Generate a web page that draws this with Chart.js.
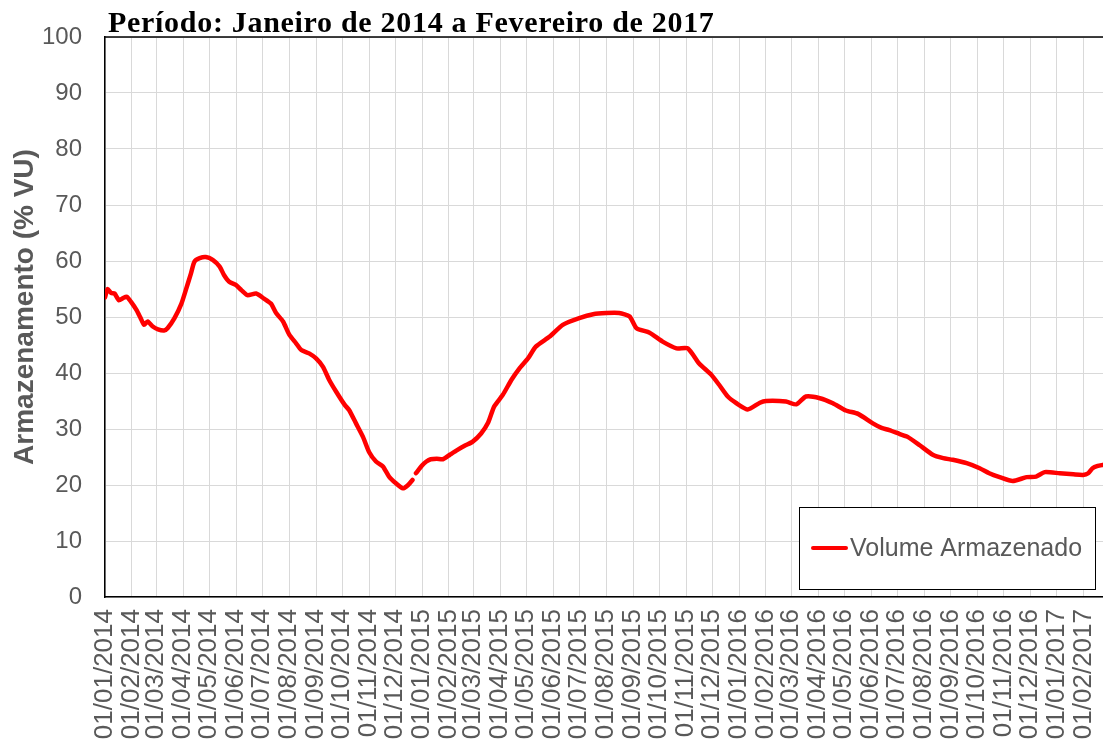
<!DOCTYPE html>
<html><head><meta charset="utf-8">
<script src="https://cdn.jsdelivr.net/npm/chart.js@4/dist/chart.umd.min.js"></script>
<style>html,body{margin:0;padding:0;background:#fff;}#wrap{width:1103px;height:743px;position:relative}</style>
</head><body><div id="wrap"><canvas id="c" width="1103" height="743"></canvas></div>
<script>
const titleText = 'Período: Janeiro de 2014 a Fevereiro de 2017';
const yAxisTitle = 'Armazenamento (% VU)';
const seriesLabel = 'Volume Armazenado';
const tickLabels = ['01/01/2014','01/02/2014','01/03/2014','01/04/2014','01/05/2014','01/06/2014','01/07/2014','01/08/2014','01/09/2014','01/10/2014','01/11/2014','01/12/2014',
'01/01/2015','01/02/2015','01/03/2015','01/04/2015','01/05/2015','01/06/2015','01/07/2015','01/08/2015','01/09/2015','01/10/2015','01/11/2015','01/12/2015',
'01/01/2016','01/02/2016','01/03/2016','01/04/2016','01/05/2016','01/06/2016','01/07/2016','01/08/2016','01/09/2016','01/10/2016','01/11/2016','01/12/2016',
'01/01/2017','01/02/2017'];
const xStart = '2014-01-01';
const xEnd = '2017-02-23';
const dates = ['2014-01-01','2014-01-04','2014-01-08','2014-01-12','2014-01-17','2014-01-22','2014-01-26','2014-01-31','2014-02-06','2014-02-11','2014-02-15','2014-02-19','2014-02-25',
'2014-03-03','2014-03-10','2014-03-14','2014-03-22','2014-03-30','2014-04-04','2014-04-10','2014-04-14','2014-04-20','2014-04-27','2014-05-05','2014-05-13','2014-05-18','2014-05-24',
'2014-06-01','2014-06-07','2014-06-14','2014-06-24','2014-07-03','2014-07-11','2014-07-17','2014-07-25','2014-08-01','2014-08-09','2014-08-15','2014-08-24',
'2014-09-01','2014-09-09','2014-09-16','2014-09-24','2014-10-04','2014-10-09','2014-10-17','2014-10-25','2014-11-01','2014-11-09','2014-11-17','2014-11-24',
'2014-12-02','2014-12-10','2014-12-16','2014-12-21','2014-12-23','2014-12-25',
'2015-01-01','2015-01-06','2015-01-11','2015-01-18','2015-01-25','2015-02-02','2015-02-09','2015-02-19','2015-02-28','2015-03-10','2015-03-18','2015-03-25',
'2015-04-04','2015-04-14','2015-04-23','2015-05-03','2015-05-12','2015-05-28','2015-06-12','2015-07-01','2015-07-17','2015-08-01','2015-08-16','2015-08-28',
'2015-09-05','2015-09-20','2015-10-05','2015-10-21','2015-11-03','2015-11-16','2015-11-30','2015-12-09','2015-12-19','2015-12-29',
'2016-01-11','2016-01-25','2016-02-01','2016-02-24','2016-03-07','2016-03-18','2016-04-03','2016-04-18','2016-05-03','2016-05-17','2016-06-03','2016-06-13','2016-06-22',
'2016-07-04','2016-07-13','2016-07-27','2016-08-11','2016-08-23','2016-09-03','2016-09-19','2016-10-04','2016-10-15','2016-10-27','2016-11-11','2016-11-27',
'2016-12-08','2016-12-18','2017-01-04','2017-01-20','2017-01-31','2017-02-06','2017-02-11','2017-02-17','2017-02-23'];
const values = [53.5,55.0,54.3,54.2,53.0,53.4,53.6,52.7,51.3,49.8,48.6,49.2,48.3,
47.8,47.6,48.0,49.8,52.4,54.8,57.8,59.9,60.5,60.7,60.2,59.0,57.5,56.3,
55.7,54.8,53.9,54.2,53.3,52.4,50.7,49.2,46.9,45.3,44.1,43.5,
42.6,41.1,38.8,36.7,34.3,33.4,31.0,28.6,25.9,24.2,23.3,21.5,
20.3,19.4,20.0,20.9,null,22.1,
23.5,24.2,24.6,24.7,24.6,25.4,26.1,27.0,27.7,29.2,31.1,34.0,
36.1,38.8,40.8,42.6,44.7,46.5,48.6,49.8,50.5,50.7,50.7,50.1,
48.0,47.2,45.6,44.4,44.4,41.7,39.7,37.9,35.8,34.6,
33.5,34.7,35.0,34.9,34.4,35.8,35.5,34.6,33.3,32.7,31.0,30.2,29.8,
29.1,28.6,27.1,25.4,24.8,24.5,23.9,23.0,22.1,21.4,20.7,21.4,
21.5,22.3,22.1,21.9,21.8,22.1,23.0,23.4,23.6];
const yTicks = [0,10,20,30,40,50,60,70,80,90,100];

const DAY = 86400000;
const t0 = Date.UTC(2014,0,1);
function isoDay(s){const p=s.split('-').map(Number);return Math.round((Date.UTC(p[0],p[1]-1,p[2])-t0)/DAY);}
function brDay(s){const p=s.split('/').map(Number);return Math.round((Date.UTC(p[2],p[1]-1,p[0])-t0)/DAY);}
const tickDays = tickLabels.map(brDay);
const points = dates.map((d,i)=>({x:isoDay(d), y:values[i]}));

const GREY = '#595959';
const decor = {
  id:'decor',
  afterDraw(chart){
    const ctx = chart.ctx, a = chart.chartArea;
    ctx.save();
    ctx.strokeStyle='#000'; ctx.lineWidth=1.5;
    ctx.beginPath(); ctx.moveTo(a.left, a.top); ctx.lineTo(a.right, a.top); ctx.stroke();
    ctx.fillStyle='#000';
    ctx.font='bold 30px "Liberation Serif", "Times New Roman", serif';
    try{ctx.letterSpacing='0.7px';}catch(e){}
    ctx.textAlign='left'; ctx.textBaseline='alphabetic';
    ctx.fillText(titleText, 108, 32);
    try{ctx.letterSpacing='0px';}catch(e){}
    ctx.save();
    ctx.translate(25, 307); ctx.rotate(-Math.PI/2);
    ctx.fillStyle=GREY; ctx.font='bold 28px "Liberation Sans", Arial, sans-serif';
    ctx.textAlign='center'; ctx.textBaseline='middle';
    ctx.fillText(yAxisTitle, 0, 0);
    ctx.restore();
    const ds = chart.data.datasets[0];
    ctx.fillStyle='#fff'; ctx.fillRect(799.5,507.5,296,82);
    ctx.strokeStyle='#000'; ctx.lineWidth=1; ctx.strokeRect(799.5,507.5,296,82);
    ctx.strokeStyle=ds.borderColor; ctx.lineWidth=4; ctx.lineCap='round';
    ctx.beginPath(); ctx.moveTo(813,548); ctx.lineTo(846,548); ctx.stroke();
    ctx.fillStyle=GREY; ctx.font='25px "Liberation Sans", Arial, sans-serif';
    ctx.textAlign='left'; ctx.textBaseline='middle';
    ctx.fillText(ds.label, 850, 549);
    ctx.restore();
  }
};

new Chart(document.getElementById('c'), {
  type:'line',
  data:{datasets:[{label:seriesLabel, data:points, borderColor:'#ff0000', borderWidth:4.5, pointRadius:0, tension:0.2, spanGaps:false, fill:false, borderCapStyle:'round', borderJoinStyle:'round'}]},
  options:{
    responsive:false, devicePixelRatio:1, animation:false,
    layout:{padding:{top:37,right:0,left:0,bottom:0}},
    plugins:{legend:{display:false}, title:{display:false}, tooltip:{enabled:false}},
    scales:{
      x:{type:'linear', min:0, max:isoDay(xEnd),
        afterBuildTicks(s){s.ticks = tickDays.map(v=>({value:v}));},
        afterFit(s){s.height=146; s.paddingLeft=0; s.paddingRight=0;},
        ticks:{autoSkip:false, minRotation:90, maxRotation:90, padding:12, color:GREY,
          font:{family:'"Liberation Sans", Arial, sans-serif', size:26},
          callback:(v,i)=>tickLabels[i]},
        grid:{color:'#d9d9d9', lineWidth:1, drawTicks:false},
        border:{color:'#000', width:1.5}
      },
      y:{min:0, max:100,
        afterBuildTicks(s){s.ticks = yTicks.map(v=>({value:v}));},
        afterFit(s){s.width=105; s.paddingTop=0; s.paddingBottom=0;},
        ticks:{padding:23, color:GREY, font:{family:'"Liberation Sans", Arial, sans-serif', size:24}},
        grid:{color:'#d9d9d9', lineWidth:1, drawTicks:false},
        border:{color:'#000', width:1.5}
      }
    }
  },
  plugins:[decor]
});
</script></body></html>
